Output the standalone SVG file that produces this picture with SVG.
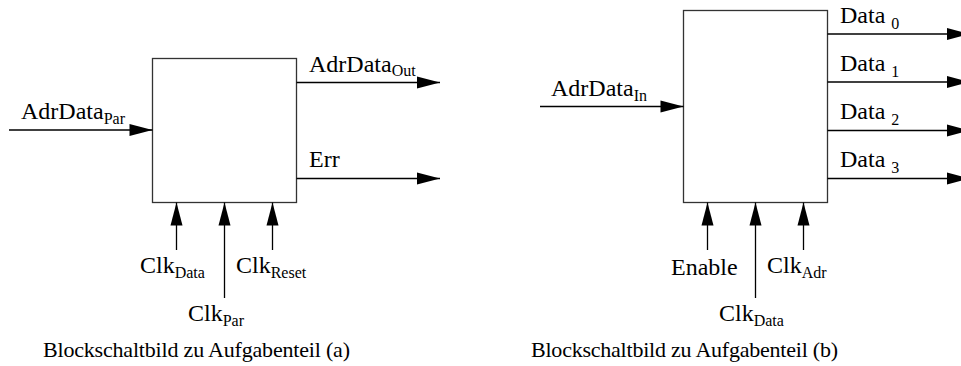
<svg xmlns="http://www.w3.org/2000/svg" width="961" height="366" viewBox="0 0 961 366">
  <style>
    .box { fill: #ffffff; stroke: #333333; stroke-width: 1.3; }
    .wire { fill: none; stroke: #000000; stroke-width: 1.3; }
    .lbl { font-family: "Liberation Serif", "Times New Roman", serif; font-size: 24px; fill: #000000; }
    .sub { font-size: 16px; }
    .cap { font-family: "Liberation Serif", "Times New Roman", serif; font-size: 22px; fill: #000000; }
  </style>
  <defs>
    <marker id="head" markerUnits="userSpaceOnUse" markerWidth="23" markerHeight="12" refX="23" refY="6" orient="auto" overflow="visible">
      <path d="M0,0 L23,6 L0,12 Z" fill="#000000"/>
    </marker>
  </defs>

  <!-- Block (a) -->
  <g id="block-a">
    <rect class="box" x="152.5" y="58.5" width="144" height="144"/>
  </g>
  <!-- Block (b) -->
  <g id="block-b">
    <rect class="box" x="683.5" y="10.5" width="144" height="192"/>
  </g>

  <g id="connectors">
    <!-- (a) inputs / outputs -->
    <line class="wire" x1="9" y1="130" x2="152.5" y2="130" marker-end="url(#head)"/>
    <line class="wire" x1="296.5" y1="82.5" x2="440" y2="82.5" marker-end="url(#head)"/>
    <line class="wire" x1="296.5" y1="178.5" x2="440" y2="178.5" marker-end="url(#head)"/>
    <line class="wire" x1="176.5" y1="250" x2="176.5" y2="202.5" marker-end="url(#head)"/>
    <line class="wire" x1="224.5" y1="298" x2="224.5" y2="202.5" marker-end="url(#head)"/>
    <line class="wire" x1="272.5" y1="250" x2="272.5" y2="202.5" marker-end="url(#head)"/>
    <!-- (b) inputs / outputs -->
    <line class="wire" x1="540" y1="106.5" x2="683.5" y2="106.5" marker-end="url(#head)"/>
    <line class="wire" x1="827.5" y1="34" x2="970" y2="34" marker-end="url(#head)"/>
    <line class="wire" x1="827.5" y1="82" x2="970" y2="82" marker-end="url(#head)"/>
    <line class="wire" x1="827.5" y1="130.5" x2="970" y2="130.5" marker-end="url(#head)"/>
    <line class="wire" x1="827.5" y1="178.5" x2="970" y2="178.5" marker-end="url(#head)"/>
    <line class="wire" x1="707.5" y1="250" x2="707.5" y2="202.5" marker-end="url(#head)"/>
    <line class="wire" x1="755.5" y1="298" x2="755.5" y2="202.5" marker-end="url(#head)"/>
    <line class="wire" x1="803.5" y1="250" x2="803.5" y2="202.5" marker-end="url(#head)"/>
  </g>

  <g id="labels-a">
    <text class="lbl" x="21" y="119">AdrData<tspan class="sub" dy="5">Par</tspan></text>
    <text class="lbl" x="309" y="72">AdrData<tspan class="sub" dy="4">Out</tspan></text>
    <text class="lbl" x="309" y="167">Err</text>
    <text class="lbl" x="140" y="273">Clk<tspan class="sub" dy="5">Data</tspan></text>
    <text class="lbl" x="236" y="273">Clk<tspan class="sub" dy="5">Reset</tspan></text>
    <text class="lbl" x="188" y="321">Clk<tspan class="sub" dy="5">Par</tspan></text>
  </g>
  <g id="labels-b">
    <text class="lbl" x="551" y="96">AdrData<tspan class="sub" dy="5">In</tspan></text>
    <text class="lbl" x="840" y="23">Data <tspan class="sub" dy="6">0</tspan></text>
    <text class="lbl" x="840" y="71">Data <tspan class="sub" dy="6">1</tspan></text>
    <text class="lbl" x="840" y="119">Data <tspan class="sub" dy="6">2</tspan></text>
    <text class="lbl" x="840" y="167">Data <tspan class="sub" dy="6">3</tspan></text>
    <text class="lbl" x="671" y="275">Enable</text>
    <text class="lbl" x="767" y="273">Clk<tspan class="sub" dy="5">Adr</tspan></text>
    <text class="lbl" x="719" y="321">Clk<tspan class="sub" dy="5">Data</tspan></text>
  </g>

  <g id="captions">
    <text class="cap" x="43" y="357" textLength="307" lengthAdjust="spacing">Blockschaltbild zu Aufgabenteil (a)</text>
    <text class="cap" x="531" y="357" textLength="307" lengthAdjust="spacing">Blockschaltbild zu Aufgabenteil (b)</text>
  </g>
</svg>
